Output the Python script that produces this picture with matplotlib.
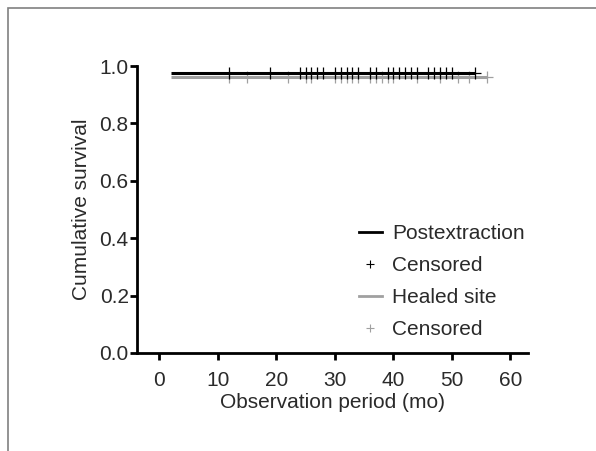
import matplotlib
matplotlib.use("Agg")
import matplotlib.pyplot as plt
from matplotlib.lines import Line2D
from matplotlib.patches import Rectangle

plt.rcParams["font.family"] = ["Liberation Sans", "DejaVu Sans"]

# Kaplan-Meier curves (flat, no events after start)
post_start, post_end, post_surv = 2, 54, 0.977
healed_start, healed_end, healed_surv = 2, 56, 0.963

post_censored = [12, 19, 24, 25, 26, 27, 28, 30, 31, 32, 33, 34, 36, 37,
                 39, 40, 41, 42, 43, 44, 46, 47, 48, 49, 50, 54]
healed_censored = [12, 15, 22, 25, 26, 30, 31, 32, 33, 34, 36, 37, 38, 39,
                   40, 44, 48, 51, 53, 56]

xticks = [0, 10, 20, 30, 40, 50, 60]
yticks = [0.0, 0.2, 0.4, 0.6, 0.8, 1.0]

BLACK = "#000000"
GRAY = "#a0a0a0"
TXT = "#2a2a2a"
FS = 15

fig = plt.figure(figsize=(5.96, 4.51), dpi=100)
fig.patches.append(Rectangle((8 / 596, -0.1), 1.2, 1 - 8 / 451 + 0.1,
                             transform=fig.transFigure, fill=False,
                             edgecolor="#808080", lw=1.2))

ax = fig.add_axes([137 / 596, 1 - 353 / 451, (528 - 137) / 596, (353 - 66) / 451])

ax.plot([post_start, post_end], [post_surv, post_surv], color=BLACK, lw=2.2,
        solid_capstyle="butt", zorder=3)
ax.plot([healed_start, healed_end], [healed_surv, healed_surv], color=GRAY, lw=2.2,
        solid_capstyle="butt", zorder=2)
ax.plot(healed_censored, [healed_surv] * len(healed_censored), "+", color=GRAY,
        ms=8, mew=0.9, zorder=2)
ax.plot(post_censored, [post_surv] * len(post_censored), "+", color=BLACK,
        ms=8, mew=0.9, zorder=4)

ax.set_xlim(-3.8, 63)
ax.set_ylim(0, 1.0)
ax.set_xticks(xticks)
ax.set_yticks(yticks)
ax.set_yticklabels([f"{v:.1f}" for v in yticks])

for side in ["top", "right"]:
    ax.spines[side].set_visible(False)
for side in ["left", "bottom"]:
    ax.spines[side].set_linewidth(2)
ax.tick_params(direction="out", length=5, width=2, labelsize=FS,
               labelcolor=TXT)
ax.tick_params(axis="x", pad=8)
ax.tick_params(axis="y", pad=1)

ax.set_xlabel("Observation period (mo)", fontsize=FS, color=TXT, labelpad=2)
ax.set_ylabel("Cumulative survival", fontsize=FS, color=TXT, labelpad=6)

handles = [
    Line2D([], [], color=BLACK, lw=2),
    Line2D([], [], color=BLACK, marker="+", ls="none", ms=6, mew=0.8),
    Line2D([], [], color=GRAY, lw=2),
    Line2D([], [], color=GRAY, marker="+", ls="none", ms=6, mew=0.8),
]
labels = ["Postextraction", "Censored", "Healed site", "Censored"]
ax.legend(handles, labels, frameon=False, fontsize=FS, loc="lower right",
          bbox_to_anchor=(1.04, -0.017), handlelength=1.1, handletextpad=0.5,
          labelspacing=0.62, labelcolor=TXT)

fig.savefig("out.png", dpi=100)
